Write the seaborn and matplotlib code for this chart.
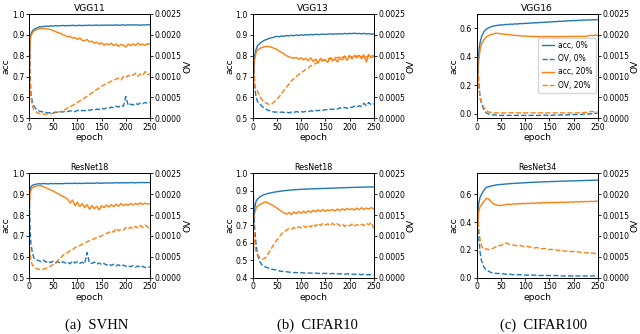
import matplotlib
matplotlib.use("Agg")
import matplotlib.pyplot as plt
import seaborn as sns
import pandas as pd

# ---------------- data ----------------
epochs = [0, 2, 4, 7, 10,
          15, 20, 25, 30, 35, 40, 45, 50, 55, 60,
          65, 70, 75, 80, 85, 90, 95, 100, 105, 110,
          115, 120, 125, 130, 135, 140, 145, 150, 155, 160,
          165, 170, 175, 180, 185, 190, 195, 200, 205, 210,
          215, 220, 225, 230, 235, 240, 245, 250]

# VGG11 / SVHN
vgg11_acc0 = [0.70, 0.885, 0.905, 0.918, 0.926,
              0.932, 0.937, 0.939, 0.940, 0.942, 0.941, 0.943, 0.942, 0.944, 0.943,
              0.944, 0.945, 0.943, 0.945, 0.944, 0.946, 0.944, 0.945, 0.946, 0.944,
              0.946, 0.945, 0.947, 0.945, 0.946, 0.947, 0.945, 0.947, 0.946, 0.947,
              0.946, 0.947, 0.946, 0.948, 0.946, 0.947, 0.948, 0.946, 0.948, 0.947,
              0.948, 0.947, 0.948, 0.946, 0.948, 0.947, 0.949, 0.948]
vgg11_acc20 = [0.60, 0.86, 0.895, 0.91, 0.918,
               0.924, 0.928, 0.930, 0.931, 0.929, 0.928, 0.925, 0.920, 0.916, 0.910,
               0.908, 0.900, 0.897, 0.890, 0.893, 0.884, 0.888, 0.878, 0.885, 0.874,
               0.872, 0.878, 0.866, 0.870, 0.860, 0.865, 0.855, 0.862, 0.850, 0.858,
               0.852, 0.860, 0.848, 0.856, 0.845, 0.855, 0.850, 0.842, 0.856, 0.848,
               0.857, 0.850, 0.860, 0.852, 0.855, 0.850, 0.858, 0.854]
vgg11_ov0 = [0.0026, 0.0011, 0.0006, 0.00038, 0.0003,
             0.00022, 0.00018, 0.00016, 0.00015, 0.00014, 0.00013, 0.00014, 0.00013, 0.00015, 0.00014,
             0.00016, 0.00015, 0.00017, 0.00016, 0.00018, 0.00017, 0.00016, 0.00019, 0.00017, 0.00019,
             0.00018, 0.00020, 0.00019, 0.00021, 0.00020, 0.00022, 0.00021, 0.00024, 0.00022, 0.00025,
             0.00024, 0.00027, 0.00025, 0.00029, 0.00027, 0.00031, 0.00029, 0.00052, 0.00031, 0.00034,
             0.00032, 0.00036, 0.00033, 0.00037, 0.00035, 0.00038, 0.00036, 0.00038]
vgg11_ov20 = [0.0026, 0.0009, 0.0005, 0.0003, 0.0002,
              0.00015, 0.00012, 0.00011, 0.00010, 0.00010, 0.00010, 0.00011, 0.00012, 0.00013, 0.00015,
              0.00016, 0.00019, 0.00021, 0.00025, 0.00027, 0.00031, 0.00034, 0.00038, 0.00042, 0.00045,
              0.00049, 0.00053, 0.00057, 0.00061, 0.00065, 0.00069, 0.00073, 0.00077, 0.00080, 0.00083,
              0.00086, 0.00089, 0.00091, 0.00094, 0.00096, 0.00092, 0.00100, 0.00097, 0.00103, 0.00100,
              0.00104, 0.00108, 0.00101, 0.00106, 0.00103, 0.00112, 0.00104, 0.00107]

# VGG13 / CIFAR10
vgg13_acc0 = [0.55, 0.75, 0.80, 0.83, 0.848,
              0.860, 0.868, 0.875, 0.879, 0.884, 0.886, 0.890, 0.893, 0.891, 0.895,
              0.893, 0.897, 0.895, 0.898, 0.896, 0.899, 0.897, 0.900, 0.898, 0.901,
              0.899, 0.902, 0.900, 0.903, 0.901, 0.902, 0.904, 0.902, 0.903, 0.905,
              0.903, 0.905, 0.904, 0.906, 0.904, 0.907, 0.905, 0.907, 0.906, 0.908,
              0.906, 0.907, 0.905, 0.907, 0.904, 0.906, 0.903, 0.904]
vgg13_acc20 = [0.60, 0.72, 0.78, 0.815, 0.828,
               0.835, 0.840, 0.843, 0.845, 0.843, 0.840, 0.835, 0.830, 0.822, 0.815,
               0.808, 0.800, 0.795, 0.790, 0.788, 0.792, 0.783, 0.790, 0.780, 0.788,
               0.775, 0.790, 0.772, 0.785, 0.765, 0.788, 0.775, 0.780, 0.768, 0.790,
               0.775, 0.785, 0.770, 0.790, 0.780, 0.795, 0.778, 0.800, 0.785, 0.800,
               0.790, 0.802, 0.785, 0.800, 0.770, 0.805, 0.790, 0.798]
vgg13_ov0 = [0.0026, 0.0015, 0.0008, 0.0005, 0.0004,
             0.00034, 0.00028, 0.00024, 0.00020, 0.00018, 0.00016, 0.00015, 0.00015, 0.00014, 0.00015,
             0.00014, 0.00015, 0.00013, 0.00015, 0.00014, 0.00016, 0.00015, 0.00016, 0.00015, 0.00017,
             0.00016, 0.00018, 0.00017, 0.00019, 0.00018, 0.00020, 0.00019, 0.00021, 0.00020, 0.00022,
             0.00021, 0.00023, 0.00022, 0.00025, 0.00023, 0.00026, 0.00024, 0.00027, 0.00026, 0.00029,
             0.00027, 0.00030, 0.00028, 0.00036, 0.00030, 0.00038, 0.00032, 0.00035]
vgg13_ov20 = [0.0026, 0.0012, 0.0008, 0.0007, 0.00065,
              0.00052, 0.00043, 0.00038, 0.00035, 0.00033, 0.00035, 0.00040, 0.00046, 0.00052, 0.00060,
              0.00068, 0.00075, 0.00082, 0.00090, 0.00095, 0.00100, 0.00105, 0.00110, 0.00113, 0.00118,
              0.00121, 0.00126, 0.00128, 0.00132, 0.00134, 0.00137, 0.00139, 0.00141, 0.00142, 0.00144,
              0.00143, 0.00146, 0.00145, 0.00148, 0.00146, 0.00149, 0.00147, 0.00150, 0.00146, 0.00151,
              0.00148, 0.00152, 0.00147, 0.00153, 0.00146, 0.00152, 0.00149, 0.00151]

# VGG16 / CIFAR100
vgg16_acc0 = [0.02, 0.30, 0.42, 0.50, 0.54,
              0.575, 0.593, 0.603, 0.610, 0.615, 0.618, 0.620, 0.623, 0.622, 0.626,
              0.625, 0.628, 0.627, 0.630, 0.629, 0.632, 0.631, 0.634, 0.633, 0.636,
              0.635, 0.638, 0.637, 0.640, 0.639, 0.642, 0.641, 0.644, 0.643, 0.646,
              0.645, 0.648, 0.647, 0.650, 0.649, 0.652, 0.651, 0.654, 0.652, 0.655,
              0.654, 0.657, 0.656, 0.658, 0.657, 0.659, 0.658, 0.660]
vgg16_acc20 = [0.03, 0.25, 0.36, 0.45, 0.49,
               0.520, 0.538, 0.548, 0.555, 0.560, 0.565, 0.562, 0.560, 0.558, 0.556,
               0.555, 0.552, 0.550, 0.549, 0.547, 0.546, 0.544, 0.545, 0.542, 0.543,
               0.541, 0.542, 0.540, 0.541, 0.539, 0.541, 0.540, 0.542, 0.540, 0.541,
               0.539, 0.541, 0.540, 0.542, 0.540, 0.542, 0.541, 0.543, 0.541, 0.542,
               0.541, 0.543, 0.542, 0.545, 0.550, 0.547, 0.551, 0.549]
vgg16_ov0 = [0.0026, 0.0015, 0.0009, 0.0005, 0.00035,
             0.00020, 0.00013, 0.00010, 0.00009, 0.00008, 0.00008, 0.00007, 0.00007, 0.00007, 0.00007,
             0.00007, 0.00007, 0.00007, 0.00007, 0.00007, 0.00007, 0.00007, 0.00007, 0.00007, 0.00007,
             0.00007, 0.00007, 0.00007, 0.00007, 0.00007, 0.00008, 0.00007, 0.00008, 0.00007, 0.00008,
             0.00008, 0.00008, 0.00008, 0.00008, 0.00008, 0.00009, 0.00008, 0.00009, 0.00009, 0.00009,
             0.00009, 0.00010, 0.00010, 0.00010, 0.00011, 0.00011, 0.00012, 0.00012]
vgg16_ov20 = [0.0026, 0.0012, 0.0008, 0.0005, 0.00038,
              0.00025, 0.00018, 0.00015, 0.00014, 0.00013, 0.00013, 0.00013, 0.00013, 0.00013, 0.00013,
              0.00013, 0.00013, 0.00013, 0.00013, 0.00013, 0.00013, 0.00013, 0.00013, 0.00013, 0.00013,
              0.00013, 0.00013, 0.00013, 0.00013, 0.00013, 0.00013, 0.00013, 0.00013, 0.00013, 0.00013,
              0.00013, 0.00013, 0.00013, 0.00013, 0.00013, 0.00013, 0.00013, 0.00013, 0.00013, 0.00013,
              0.00013, 0.00014, 0.00014, 0.00015, 0.00016, 0.00016, 0.00015, 0.00016]

# ResNet18 / SVHN
r18s_acc0 = [0.88, 0.92, 0.935, 0.942, 0.945,
             0.948, 0.950, 0.949, 0.951, 0.950, 0.949, 0.951, 0.950, 0.951, 0.950,
             0.951, 0.950, 0.952, 0.951, 0.952, 0.951, 0.953, 0.951, 0.952, 0.951,
             0.952, 0.953, 0.952, 0.953, 0.952, 0.954, 0.953, 0.952, 0.954, 0.953,
             0.954, 0.953, 0.954, 0.955, 0.954, 0.955, 0.954, 0.955, 0.954, 0.956,
             0.955, 0.954, 0.956, 0.955, 0.956, 0.955, 0.956, 0.955]
r18s_acc20 = [0.80, 0.90, 0.92, 0.93, 0.935,
              0.938, 0.941, 0.940, 0.936, 0.930, 0.925, 0.920, 0.915, 0.908, 0.902,
              0.895, 0.890, 0.883, 0.876, 0.858, 0.872, 0.845, 0.862, 0.840, 0.855,
              0.835, 0.850, 0.828, 0.845, 0.830, 0.842, 0.825, 0.845, 0.835, 0.848,
              0.838, 0.850, 0.840, 0.852, 0.842, 0.855, 0.845, 0.852, 0.847, 0.855,
              0.848, 0.856, 0.850, 0.858, 0.851, 0.857, 0.852, 0.855]
r18s_ov0 = [0.0025, 0.0012, 0.0008, 0.0006, 0.00047,
            0.00043, 0.00041, 0.00038, 0.00042, 0.00037, 0.00040, 0.00036, 0.00039, 0.00035, 0.00038,
            0.00034, 0.00038, 0.00035, 0.00037, 0.00033, 0.00040, 0.00035, 0.00038, 0.00034, 0.00037,
            0.00033, 0.00060, 0.00035, 0.00034, 0.00037, 0.00032, 0.00035, 0.00031, 0.00034, 0.00030,
            0.00033, 0.00029, 0.00032, 0.00028, 0.00031, 0.00027, 0.00030, 0.00027, 0.00029, 0.00026,
            0.00029, 0.00025, 0.00028, 0.00024, 0.00027, 0.00024, 0.00026, 0.00025]
r18s_ov20 = [0.0009, 0.0006, 0.0004, 0.0003, 0.00026,
             0.00022, 0.00020, 0.00019, 0.00020, 0.00022, 0.00025, 0.00028, 0.00031, 0.00036, 0.00042,
             0.00047, 0.00053, 0.00058, 0.00060, 0.00065, 0.00067, 0.00072, 0.00075, 0.00077, 0.00080,
             0.00083, 0.00086, 0.00088, 0.00091, 0.00093, 0.00096, 0.00098, 0.00100, 0.00103, 0.00106,
             0.00108, 0.00112, 0.00109, 0.00118, 0.00112, 0.00116, 0.00114, 0.00120, 0.00116, 0.00121,
             0.00117, 0.00123, 0.00119, 0.00125, 0.00120, 0.00126, 0.00122, 0.00113]

# ResNet18 / CIFAR10
r18c_acc0 = [0.55, 0.72, 0.80, 0.84, 0.852,
             0.865, 0.873, 0.878, 0.883, 0.886, 0.889, 0.892, 0.894, 0.896, 0.898,
             0.900, 0.901, 0.903, 0.904, 0.905, 0.906, 0.907, 0.908, 0.908, 0.909,
             0.910, 0.910, 0.911, 0.911, 0.912, 0.912, 0.913, 0.913, 0.914, 0.914,
             0.915, 0.915, 0.916, 0.916, 0.917, 0.917, 0.918, 0.918, 0.919, 0.919,
             0.919, 0.920, 0.920, 0.921, 0.921, 0.921, 0.922, 0.922]
r18c_acc20 = [0.60, 0.72, 0.77, 0.80, 0.812,
              0.820, 0.828, 0.836, 0.832, 0.825, 0.818, 0.810, 0.800, 0.790, 0.780,
              0.772, 0.765, 0.775, 0.762, 0.778, 0.768, 0.780, 0.770, 0.782, 0.772,
              0.785, 0.775, 0.788, 0.778, 0.790, 0.780, 0.792, 0.782, 0.790, 0.785,
              0.792, 0.783, 0.795, 0.785, 0.796, 0.788, 0.798, 0.790, 0.797, 0.788,
              0.800, 0.790, 0.802, 0.792, 0.800, 0.795, 0.803, 0.795]
r18c_ov0 = [0.0025, 0.0018, 0.0012, 0.0008, 0.00055,
            0.00038, 0.00029, 0.00026, 0.00024, 0.00022, 0.00020, 0.00019, 0.00018, 0.00016, 0.00015,
            0.00014, 0.00014, 0.00013, 0.00013, 0.00012, 0.00012, 0.00012, 0.00012, 0.00011, 0.00011,
            0.00011, 0.00011, 0.00010, 0.00011, 0.00010, 0.00010, 0.00010, 0.00010, 0.00010, 0.00009,
            0.00010, 0.00009, 0.00009, 0.00009, 0.00009, 0.00008, 0.00009, 0.00008, 0.00008, 0.00008,
            0.00008, 0.00008, 0.00007, 0.00008, 0.00007, 0.00007, 0.00007, 0.00007]
r18c_ov20 = [0.0025, 0.0012, 0.0008, 0.0006, 0.00055,
             0.00048, 0.00044, 0.00046, 0.00054, 0.00063, 0.00073, 0.00082, 0.00090, 0.00098, 0.00105,
             0.00110, 0.00114, 0.00118, 0.00116, 0.00120, 0.00117, 0.00122, 0.00119, 0.00124, 0.00120,
             0.00126, 0.00121, 0.00128, 0.00123, 0.00130, 0.00125, 0.00130, 0.00126, 0.00129, 0.00125,
             0.00130, 0.00125, 0.00129, 0.00124, 0.00128, 0.00123, 0.00127, 0.00124, 0.00128, 0.00123,
             0.00127, 0.00124, 0.00128, 0.00125, 0.00130, 0.00127, 0.00132, 0.00118]

# ResNet34 / CIFAR100
r34_acc0 = [0.25, 0.45, 0.53, 0.58, 0.60,
            0.630, 0.650, 0.655, 0.660, 0.663, 0.667, 0.669, 0.671, 0.672, 0.674,
            0.675, 0.677, 0.678, 0.679, 0.680, 0.681, 0.682, 0.683, 0.684, 0.685,
            0.686, 0.687, 0.688, 0.688, 0.689, 0.690, 0.690, 0.691, 0.692, 0.692,
            0.693, 0.693, 0.694, 0.695, 0.695, 0.696, 0.696, 0.697, 0.697, 0.698,
            0.698, 0.699, 0.699, 0.700, 0.700, 0.701, 0.701, 0.702]
r34_acc20 = [0.25, 0.40, 0.47, 0.51, 0.525,
             0.550, 0.570, 0.565, 0.545, 0.530, 0.525, 0.520, 0.518, 0.523, 0.525,
             0.530, 0.526, 0.532, 0.528, 0.533, 0.530, 0.535, 0.532, 0.536, 0.533,
             0.538, 0.534, 0.539, 0.535, 0.540, 0.537, 0.541, 0.538, 0.542, 0.539,
             0.543, 0.540, 0.544, 0.541, 0.545, 0.542, 0.546, 0.543, 0.547, 0.544,
             0.548, 0.545, 0.549, 0.546, 0.550, 0.547, 0.551, 0.548]
r34_ov0 = [0.0024, 0.0015, 0.0010, 0.0006, 0.0004,
           0.00025, 0.00018, 0.00015, 0.00012, 0.00011, 0.00010, 0.00010, 0.00009, 0.00009, 0.00008,
           0.00008, 0.00008, 0.00007, 0.00007, 0.00007, 0.00007, 0.00006, 0.00006, 0.00006, 0.00006,
           0.00006, 0.00006, 0.00005, 0.00005, 0.00005, 0.00005, 0.00005, 0.00005, 0.00005, 0.00005,
           0.00005, 0.00004, 0.00004, 0.00004, 0.00004, 0.00004, 0.00004, 0.00004, 0.00004, 0.00004,
           0.00004, 0.00004, 0.00004, 0.00004, 0.00004, 0.00004, 0.00004, 0.00004]
r34_ov20 = [0.0024, 0.0016, 0.0012, 0.0009, 0.00075,
            0.00068, 0.00069, 0.00067, 0.00068, 0.00071, 0.00074, 0.00076, 0.00077, 0.00080, 0.00083,
            0.00081, 0.00079, 0.00078, 0.00077, 0.00076, 0.00077, 0.00075, 0.00074, 0.00075, 0.00073,
            0.00072, 0.00071, 0.00072, 0.00070, 0.00069, 0.00070, 0.00068, 0.00067, 0.00068, 0.00066,
            0.00066, 0.00065, 0.00066, 0.00064, 0.00063, 0.00064, 0.00062, 0.00063, 0.00061, 0.00062,
            0.00060, 0.00061, 0.00059, 0.00060, 0.00058, 0.00059, 0.00057, 0.00058]

titles = ["VGG11", "VGG13", "VGG16", "ResNet18", "ResNet18", "ResNet34"]
captions = ["(a)  SVHN", "(b)  CIFAR10", "(c)  CIFAR100"]
legend_labels = ["acc, 0%", "OV, 0%", "acc, 20%", "OV, 20%"]
x_ticks = [0, 50, 100, 150, 200, 250]
ov_ticks = [0.0, 0.0005, 0.0010, 0.0015, 0.0020, 0.0025]

panels = [
    (vgg11_acc0, vgg11_ov0, vgg11_acc20, vgg11_ov20),
    (vgg13_acc0, vgg13_ov0, vgg13_acc20, vgg13_ov20),
    (vgg16_acc0, vgg16_ov0, vgg16_acc20, vgg16_ov20),
    (r18s_acc0, r18s_ov0, r18s_acc20, r18s_ov20),
    (r18c_acc0, r18c_ov0, r18c_acc20, r18c_ov20),
    (r34_acc0, r34_ov0, r34_acc20, r34_ov20),
]
acc_ylims = [(0.5, 1.0), (0.5, 1.0), (-0.033, 0.699), (0.5, 1.0), (0.4, 1.0), (0.0, 0.751)]
acc_ticks = [[0.5, 0.6, 0.7, 0.8, 0.9, 1.0], [0.5, 0.6, 0.7, 0.8, 0.9, 1.0], [0.0, 0.2, 0.4, 0.6],
             [0.5, 0.6, 0.7, 0.8, 0.9, 1.0], [0.4, 0.5, 0.6, 0.7, 0.8, 0.9, 1.0], [0.0, 0.2, 0.4, 0.6]]

# ---------------- layout ----------------
W, H = 640, 334
col_lefts = [29, 252.7, 476.7]
col_w = 121
row_tops = [14, 173.3]
row_h = 104.3

BLUE = "#1f77b4"
ORANGE = "#ff7f0e"
TICK_FS = 5.6
LABEL_FS = 6.6

fig = plt.figure(figsize=(6.4, 3.34), dpi=100)

for i, (acc0, ov0, acc20, ov20) in enumerate(panels):
    r, c = divmod(i, 3)
    left = col_lefts[c] / W
    bottom = 1 - (row_tops[r] + row_h) / H
    ax = fig.add_axes([left, bottom, col_w / W, row_h / H])
    ax2 = ax.twinx()

    df = pd.DataFrame({"epoch": epochs, "acc0": acc0, "ov0": ov0, "acc20": acc20, "ov20": ov20})
    l1 = sns.lineplot(data=df, x="epoch", y="acc0", ax=ax, color=BLUE, lw=1.0)
    sns.lineplot(data=df, x="epoch", y="acc20", ax=ax, color=ORANGE, lw=1.0)
    sns.lineplot(data=df, x="epoch", y="ov0", ax=ax2, color=BLUE, lw=1.0, linestyle="--")
    sns.lineplot(data=df, x="epoch", y="ov20", ax=ax2, color=ORANGE, lw=1.0, linestyle="--")

    ax.set_xlim(0, 250)
    ax.set_ylim(*acc_ylims[i])
    ax.set_yticks(acc_ticks[i])
    ax.set_yticklabels([f"{t:.1f}" for t in acc_ticks[i]])
    ax.set_xticks(x_ticks)
    ax2.set_ylim(0, 0.0025)
    ax2.set_yticks(ov_ticks)
    ax2.set_yticklabels([f"{t:.4f}" for t in ov_ticks])

    ax.set_xlabel("epoch", fontsize=LABEL_FS, labelpad=1)
    ax.set_ylabel("acc", fontsize=LABEL_FS, labelpad=1)
    ax2.set_ylabel("OV", fontsize=LABEL_FS, labelpad=1)
    ax.set_title(titles[i], fontsize=6.6 if r == 0 else 5.8, pad=2.5)

    for a in (ax, ax2):
        a.tick_params(labelsize=TICK_FS, length=2.2, width=0.6, pad=1.2)
        for s in a.spines.values():
            s.set_linewidth(0.7)

    if i == 2:
        h1 = ax.get_lines()
        h2 = ax2.get_lines()
        handles = [h1[0], h2[0], h1[1], h2[1]]
        ax.legend(handles, legend_labels, loc="upper right", bbox_to_anchor=(0.985, 0.77),
                  fontsize=5.5, handlelength=1.6, labelspacing=0.55, borderpad=0.4,
                  handletextpad=0.6, borderaxespad=0, framealpha=0.8)

caption_x = [97, 317, 544]
for cx, cap in zip(caption_x, captions):
    fig.text(cx / W, 1 - 325.5 / H, cap, ha="center", va="center",
             fontsize=10.5, family="Liberation Serif")

fig.savefig("out.png", dpi=100)
